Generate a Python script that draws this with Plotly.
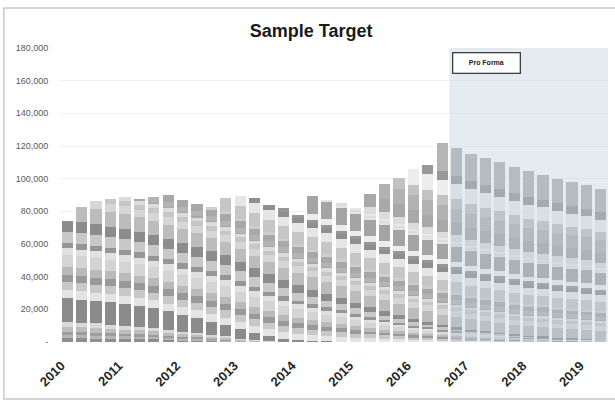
import plotly.graph_objects as go

# Quarterly periods on the category axis
quarters = [
    "2010 Q1", "2010 Q2", "2010 Q3", "2010 Q4",
    "2011 Q1", "2011 Q2", "2011 Q3", "2011 Q4",
    "2012 Q1", "2012 Q2", "2012 Q3", "2012 Q4",
    "2013 Q1", "2013 Q2", "2013 Q3", "2013 Q4",
    "2014 Q1", "2014 Q2", "2014 Q3", "2014 Q4",
    "2015 Q1", "2015 Q2", "2015 Q3", "2015 Q4",
    "2016 Q1", "2016 Q2", "2016 Q3", "2016 Q4",
    "2017 Q1", "2017 Q2", "2017 Q3", "2017 Q4",
    "2018 Q1", "2018 Q2", "2018 Q3", "2018 Q4",
    "2019 Q1", "2019 Q2",
]
year_ticks = ["2010 Q1", "2011 Q1", "2012 Q1", "2013 Q1", "2014 Q1",
              "2015 Q1", "2016 Q1", "2017 Q1", "2018 Q1", "2019 Q1"]
year_labels = ["2010", "2011", "2012", "2013", "2014",
               "2015", "2016", "2017", "2018", "2019"]
y_tick_values = [0, 20, 40, 60, 80, 100, 120, 140, 160, 180]
y_tick_labels = ["-", "20,000", "40,000", "60,000", "80,000", "100,000",
                 "120,000", "140,000", "160,000", "180,000"]
pro_forma_start = "2016 Q4"

# Layer values (thousands), oldest layers at the bottom of each bar.
# Pre-2010 base layers, one value per quarter from 2010 Q1.
p01 = [2.3, 2.2, 2.1, 2.0, 1.9, 1.7, 1.6, 1.4, 1.2, 1.0, 0.9, 0.6, 0.4, 0.2, 0.1]
p02 = [2.0, 1.9, 1.8, 1.7, 1.6, 1.5, 1.4, 1.2, 1.0, 0.9, 0.7, 0.6, 0.3, 0.2, 0.1]
p03 = [2.0, 1.9, 1.8, 1.7, 1.6, 1.5, 1.4, 1.2, 1.0, 0.9, 0.7, 0.6, 0.3, 0.2, 0.1]
p04 = [3.1, 3.0, 2.9, 2.7, 2.5, 2.4, 2.1, 1.9, 1.6, 1.4, 1.1, 0.9, 0.5, 0.3, 0.2]
p05 = [3.0, 2.9, 2.8, 2.6, 2.4, 2.3, 2.0, 1.8, 1.6, 1.4, 1.1, 0.8, 0.5, 0.3, 0.1]
p06 = [14.3, 14.0, 13.8, 13.6, 13.3, 12.8, 12.2, 11.2, 10.2, 9.1, 8.0, 6.8,
       5.8, 4.2, 3.0, 2.0, 1.3, 0.8, 0.5, 0.3]
p07 = [5.1, 5.1, 5.0, 5.0, 4.9, 4.9, 4.8, 4.8, 4.7, 4.7, 4.6, 4.6, 4.4, 4.3,
       4.1, 3.9, 3.6, 3.4, 3.1, 2.9, 2.6, 2.3, 2.0, 1.8, 1.5, 1.3, 1.1, 1.0,
       0.8, 0.7, 0.6, 0.5, 0.4, 0.4, 0.3, 0.3, 0.2, 0.2]
p08 = [5.1, 5.1, 5.0, 5.0, 4.9, 4.9, 4.8, 4.8, 4.7, 4.7, 4.6, 4.6, 4.4, 4.3,
       4.1, 3.9, 3.6, 3.4, 3.1, 2.9, 2.6, 2.3, 2.0, 1.8, 1.5, 1.3, 1.1, 1.0,
       0.8, 0.7, 0.6, 0.5, 0.4, 0.4, 0.3, 0.3, 0.2, 0.2]
p09 = [4.1, 4.1, 4.1, 4.0, 4.0, 3.9, 3.9, 3.9, 3.8, 3.8, 3.7, 3.7, 3.6, 3.4,
       3.3, 3.1, 2.9, 2.7, 2.5, 2.3, 2.1, 1.8, 1.6, 1.4, 1.2, 1.1, 0.9, 0.8,
       0.7, 0.6, 0.5, 0.4, 0.3, 0.3, 0.2, 0.2, 0.2, 0.1]
p10 = [5.0, 5.0, 5.0, 4.9, 4.9, 4.8, 4.8, 4.7, 4.7, 4.6, 4.6, 4.5, 4.4, 4.2,
       4.0, 3.8, 3.6, 3.3, 3.1, 2.8, 2.5, 2.3, 2.0, 1.8, 1.5, 1.3, 1.1, 1.0,
       0.8, 0.7, 0.6, 0.5, 0.4, 0.4, 0.3, 0.3, 0.2, 0.2]
p11 = [7.2, 7.2, 7.1, 7.1, 7.0, 6.9, 6.8, 6.8, 6.7, 6.6, 6.6, 6.5, 6.3, 6.0,
       5.8, 5.5, 5.1, 4.8, 4.4, 4.0, 3.6, 3.2, 2.9, 2.5, 2.2, 1.9, 1.6, 1.4,
       1.2, 1.0, 0.9, 0.7, 0.6, 0.5, 0.4, 0.4, 0.3, 0.2]
p12 = [4.1, 4.1, 4.1, 4.0, 4.0, 3.9, 3.9, 3.9, 3.8, 3.8, 3.7, 3.7, 3.6, 3.4,
       3.3, 3.1, 2.9, 2.7, 2.5, 2.3, 2.1, 1.8, 1.6, 1.4, 1.2, 1.1, 0.9, 0.8,
       0.7, 0.6, 0.5, 0.4, 0.3, 0.3, 0.2, 0.2, 0.2, 0.1]
p13 = [3.4, 3.4, 3.4, 3.3, 3.3, 3.3, 3.2, 3.2, 3.2, 3.1, 3.1, 3.1, 3.0, 2.9,
       2.7, 2.6, 2.4, 2.2, 2.1, 1.9, 1.7, 1.5, 1.4, 1.2, 1.0, 0.9, 0.7, 0.6,
       0.5, 0.5, 0.4, 0.3, 0.3, 0.2, 0.2, 0.2, 0.1, 0.1]
p14 = [6.8, 6.8, 6.7, 6.7, 6.6, 6.5, 6.5, 6.4, 6.3, 6.3, 6.2, 6.1, 5.9, 5.7,
       5.4, 5.2, 4.8, 4.5, 4.1, 3.8, 3.4, 3.1, 2.7, 2.4, 2.0, 1.8, 1.5, 1.3,
       1.1, 1.0, 0.8, 0.7, 0.5, 0.5, 0.4, 0.3, 0.3, 0.2]
p15 = [6.5, 6.5, 6.4, 6.4, 6.3, 6.2, 6.2, 6.1, 6.0, 6.0, 5.9, 5.9, 5.7, 5.5,
       5.2, 4.9, 4.6, 4.3, 4.0, 3.6, 3.3, 2.9, 2.6, 2.3, 2.0, 1.7, 1.4, 1.2,
       1.0, 0.9, 0.8, 0.7, 0.5, 0.5, 0.4, 0.3, 0.3, 0.2]

# Quarterly vintages, each listed from the quarter it was added.
v2010q2 = [9.4, 9.3, 9.1, 9.0, 8.8, 8.7, 8.6, 8.5, 8.3, 8.2, 8.1, 8.0, 7.8,
           7.7, 7.6, 7.5, 7.4, 7.3, 7.2, 7.1, 6.9, 6.8, 6.7, 6.6, 6.5, 6.4,
           6.3, 6.2, 6.1, 6.0, 5.9, 5.8, 5.7, 5.6, 5.5, 5.4, 5.3]
v2010q3 = [4.9, 4.8, 4.8, 4.7, 4.6, 4.5, 4.5, 4.4, 4.3, 4.3, 4.2, 4.2, 4.1,
           4.0, 4.0, 3.9, 3.8, 3.8, 3.7, 3.7, 3.6, 3.6, 3.5, 3.5, 3.4, 3.4,
           3.3, 3.2, 3.2, 3.1, 3.1, 3.0, 3.0, 2.9, 2.9, 2.8]
v2010q4 = [3.2, 3.2, 3.1, 3.1, 3.0, 3.0, 2.9, 2.9, 2.8, 2.8, 2.8, 2.7, 2.7,
           2.6, 2.6, 2.6, 2.5, 2.5, 2.4, 2.4, 2.4, 2.3, 2.3, 2.3, 2.2, 2.2,
           2.1, 2.1, 2.1, 2.0, 2.0, 2.0, 1.9, 1.9, 1.9]
v2011q1 = [2.8, 2.8, 2.7, 2.7, 2.6, 2.6, 2.6, 2.5, 2.5, 2.4, 2.4, 2.4, 2.3,
           2.3, 2.3, 2.2, 2.2, 2.2, 2.1, 2.1, 2.1, 2.0, 2.0, 2.0, 1.9, 1.9,
           1.9, 1.8, 1.8, 1.8, 1.8, 1.7, 1.7, 1.7]
v2011q2 = [0.5, 0.5, 0.5, 0.5, 0.5, 0.5, 0.5, 0.4, 0.4, 0.4, 0.4, 0.4, 0.4,
           0.4, 0.4, 0.4, 0.4, 0.4, 0.4, 0.4, 0.4, 0.4, 0.4, 0.3, 0.3, 0.3,
           0.3, 0.3, 0.3, 0.3, 0.3, 0.3, 0.3]
v2011q3 = [3.3, 3.3, 3.2, 3.2, 3.1, 3.1, 3.0, 3.0, 2.9, 2.9, 2.8, 2.8, 2.8,
           2.7, 2.7, 2.6, 2.6, 2.6, 2.5, 2.5, 2.4, 2.4, 2.4, 2.3, 2.3, 2.2,
           2.2, 2.2, 2.1, 2.1, 2.1, 2.0]
v2011q4 = [4.1, 4.0, 4.0, 3.9, 3.9, 3.8, 3.7, 3.7, 3.6, 3.6, 3.5, 3.5, 3.4,
           3.4, 3.3, 3.3, 3.2, 3.2, 3.1, 3.1, 3.0, 3.0, 2.9, 2.9, 2.8, 2.8,
           2.7, 2.7, 2.6, 2.6, 2.5]
v2012q3 = [1.8, 1.8, 1.7, 1.7, 1.7, 1.7, 1.6, 1.6, 1.6, 1.6, 1.5, 1.5, 1.5,
           1.5, 1.5, 1.4, 1.4, 1.4, 1.4, 1.3, 1.3, 1.3, 1.3, 1.3, 1.2, 1.2,
           1.2, 1.2]
v2012q4 = [8.1, 8.0, 7.9, 7.7, 7.6, 7.5, 7.4, 7.3, 7.2, 7.1, 7.0, 6.9, 6.8,
           6.7, 6.6, 6.5, 6.4, 6.2, 6.1, 6.0, 5.9, 5.8, 5.7, 5.6, 5.5, 5.4,
           5.3]
v2013q1 = [6.0, 5.9, 5.8, 5.7, 5.6, 5.6, 5.5, 5.4, 5.3, 5.2, 5.2, 5.1, 5.0,
           4.9, 4.9, 4.8, 4.7, 4.6, 4.5, 4.5, 4.4, 4.3, 4.2, 4.2, 4.1, 4.0]
v2013q2 = [3.4, 3.3, 3.3, 3.3, 3.2, 3.2, 3.1, 3.1, 3.0, 3.0, 2.9, 2.9, 2.8,
           2.8, 2.7, 2.7, 2.7, 2.6, 2.6, 2.5, 2.5, 2.4, 2.4, 2.3, 2.3]
v2013q4 = [1.9, 1.9, 1.8, 1.8, 1.8, 1.8, 1.7, 1.7, 1.7, 1.7, 1.6, 1.6, 1.6,
           1.6, 1.5, 1.5, 1.5, 1.5, 1.4, 1.4, 1.4, 1.4, 1.3]
v2014q2a = [3.7, 3.6, 3.6, 3.5, 3.5, 3.4, 3.4, 3.3, 3.3, 3.2, 3.2, 3.1, 3.1,
            3.0, 3.0, 2.9, 2.9, 2.8, 2.8, 2.7, 2.7]
v2014q2b = [11.0, 10.9, 10.7, 10.6, 10.3, 10.2, 10.0, 9.9, 9.7, 9.6, 9.4, 9.3,
            9.1, 9.0, 8.8, 8.7, 8.5, 8.4, 8.2, 8.1, 7.9]
v2014q3 = [1.1, 1.1, 1.1, 1.1, 1.0, 1.0, 1.0, 1.0, 1.0, 1.0, 0.9, 0.9, 0.9,
           0.9, 0.9, 0.9, 0.8, 0.8, 0.8, 0.8]
v2014q4 = [1.4, 1.4, 1.4, 1.3, 1.3, 1.3, 1.3, 1.3, 1.2, 1.2, 1.2, 1.2, 1.2,
           1.1, 1.1, 1.1, 1.1, 1.1, 1.0]
v2015q1 = [0.9, 0.9, 0.9, 0.9, 0.8, 0.8, 0.8, 0.8, 0.8, 0.8, 0.8, 0.8, 0.7,
           0.7, 0.7, 0.7, 0.7, 0.7]
v2015q2a = [4.4, 4.3, 4.3, 4.2, 4.1, 4.1, 4.0, 3.9, 3.9, 3.8, 3.7, 3.7, 3.6,
            3.6, 3.5, 3.4, 3.4]
v2015q2b = [8.0, 7.9, 7.7, 7.7, 7.6, 7.4, 7.3, 7.2, 7.0, 6.9, 6.8, 6.7, 6.6,
            6.4, 6.3, 6.3, 6.1]
v2015q3 = [9.6, 9.5, 9.3, 9.2, 9.0, 8.9, 8.7, 8.6, 8.4, 8.3, 8.1, 8.0, 7.9,
           7.7, 7.6, 7.5]
v2015q4 = [6.5, 6.4, 6.3, 6.2, 6.1, 6.0, 5.9, 5.8, 5.7, 5.6, 5.5, 5.4, 5.3,
           5.2, 5.1]
v2016q1 = [9.6, 9.5, 9.3, 9.1, 9.0, 8.8, 8.7, 8.5, 8.4, 8.2, 8.1, 8.0, 7.8,
           7.7]
v2016q2 = [5.3, 5.2, 5.1, 5.0, 5.0, 4.9, 4.8, 4.7, 4.6, 4.6, 4.5, 4.4, 4.3]
v2016q3 = [17.4, 17.1, 16.8, 16.5, 16.3, 16.0, 15.7, 15.4, 15.2, 14.9, 14.7,
           14.4]

# (first quarter, values, fill) in stacking order, bottom to top
layers = [
    ("2010 Q1", p01, "#8e8e8e"),
    ("2010 Q1", p02, "#b6b6b6"),
    ("2010 Q1", p03, "#9c9c9c"),
    ("2010 Q1", p04, "#bdbdbd"),
    ("2010 Q1", p05, "#d9d9d9"),
    ("2010 Q1", p06, "#8b8b8b"),
    ("2010 Q1", p07, "#e4e4e4"),
    ("2010 Q1", p08, "#c8c8c8"),
    ("2010 Q1", p09, "#999999"),
    ("2010 Q1", p10, "#bababa"),
    ("2010 Q1", p11, "#d4d4d4"),
    ("2010 Q1", p12, "#e0e0e0"),
    ("2010 Q1", p13, "#969696"),
    ("2010 Q1", p14, "#c8c8c8"),
    ("2010 Q1", p15, "#8c8c8c"),
    ("2010 Q2", v2010q2, "#bcbcbc"),
    ("2010 Q3", v2010q3, "#d6d6d6"),
    ("2010 Q4", v2010q4, "#c6c6c6"),
    ("2011 Q1", v2011q1, "#dcdcdc"),
    ("2011 Q2", v2011q2, "#a8a8a8"),
    ("2011 Q3", v2011q3, "#b4b4b4"),
    ("2011 Q4", v2011q4, "#a8a8a8"),
    ("2012 Q3", v2012q3, "#cecece"),
    ("2012 Q4", v2012q4, "#c6c6c6"),
    ("2013 Q1", v2013q1, "#e6e6e6"),
    ("2013 Q2", v2013q2, "#8f8f8f"),
    ("2013 Q4", v2013q4, "#979797"),
    ("2014 Q2", v2014q2a, "#ececec"),
    ("2014 Q2", v2014q2b, "#a4a4a4"),
    ("2014 Q3", v2014q3, "#e4e4e4"),
    ("2014 Q4", v2014q4, "#dcdcdc"),
    ("2015 Q1", v2015q1, "#e8e8e8"),
    ("2015 Q2", v2015q2a, "#dcdcdc"),
    ("2015 Q2", v2015q2b, "#a8a8a8"),
    ("2015 Q3", v2015q3, "#b2b2b2"),
    ("2015 Q4", v2015q4, "#c2c2c2"),
    ("2016 Q1", v2016q1, "#ededed"),
    ("2016 Q2", v2016q2, "#999999"),
    ("2016 Q3", v2016q3, "#b5b5b5"),
]

fig = go.Figure()
for start, values, fill in layers:
    i0 = quarters.index(start)
    fig.add_trace(go.Bar(
        x=quarters[i0:i0 + len(values)],
        y=values,
        marker=dict(color=fill, line=dict(width=0)),
        showlegend=False,
        hoverinfo="skip",
    ))

# Pro forma band drawn over the projected quarters
pf = quarters.index(pro_forma_start)
fig.add_shape(type="rect", xref="x", yref="y",
              x0=pf - 0.5, x1=len(quarters) - 0.5, y0=0, y1=180,
              fillcolor="#b8c7d6", opacity=0.36, line=dict(width=0),
              layer="above")

# Outer chart frame
fig.add_shape(type="rect", xref="paper", yref="paper",
              x0=-0.1025, x1=1.04, y0=-0.194, y1=1.136,
              line=dict(color="#c8c8c8", width=1.5), fillcolor="rgba(0,0,0,0)",
              layer="below")

fig.add_annotation(text="<b>Pro Forma</b>", xref="paper", yref="paper",
                   x=0.778, y=0.95, xanchor="center", yanchor="middle",
                   showarrow=False,
                   width=62, height=15, borderpad=2,
                   bgcolor="#ffffff", bordercolor="#404040", borderwidth=1.3,
                   font=dict(family="Liberation Sans", size=7, color="#202020"))

fig.update_layout(
    width=615, height=403,
    margin=dict(l=60, r=7, t=48, b=61),
    paper_bgcolor="#ffffff", plot_bgcolor="#ffffff",
    barmode="stack", bargap=0.22,
    title=dict(text="<b>Sample Target</b>", x=0.506, xref="container",
               xanchor="center", y=0.925, yanchor="middle",
               font=dict(family="Liberation Sans", size=18, color="#1a1a1a")),
    showlegend=False,
)
fig.update_xaxes(
    type="category", categoryorder="array", categoryarray=quarters,
    range=[-0.5, len(quarters) - 0.5],
    tickmode="array", tickvals=year_ticks, ticktext=year_labels,
    tickangle=-45, ticks="outside", ticklen=10, tickcolor="rgba(0,0,0,0)",
    ticklabelshift=-6,
    tickfont=dict(family="Liberation Sans", size=13, color="#262626",
                  weight="bold"),
    showgrid=False, showline=False, zeroline=False,
)
fig.update_yaxes(
    range=[0, 180], tickmode="array", tickvals=y_tick_values,
    ticktext=y_tick_labels,
    ticks="outside", ticklen=9, tickcolor="rgba(0,0,0,0)",
    tickfont=dict(family="Liberation Sans", size=9, color="#595959"),
    showgrid=True, gridcolor="#f2f2f2", gridwidth=1,
    showline=False, zeroline=False,
)

fig.write_html("out.html")
